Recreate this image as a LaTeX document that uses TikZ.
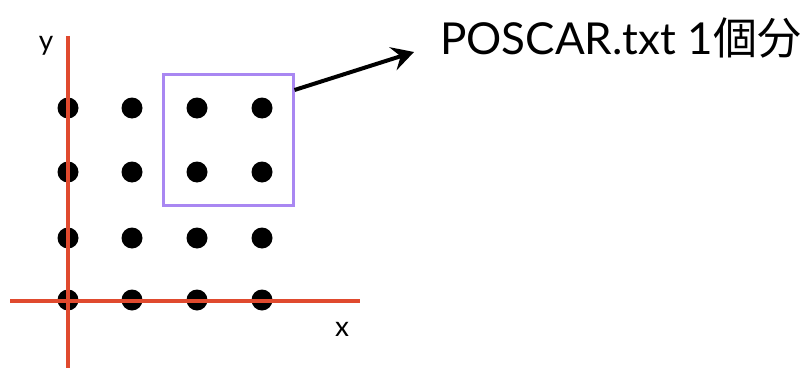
\documentclass[tikz,border=0pt]{standalone}
\usepackage{fontspec}
\setmainfont{Lato}
\newfontfamily\cjk{Noto Sans CJK JP}
\usetikzlibrary{arrows.meta}
\definecolor{axisred}{HTML}{E04A2E}
\definecolor{boxpurple}{HTML}{A987F2}
\tikzset{
  axis/.style={draw=axisred, line width=4.5pt},
  dot/.style={circle, fill=black, inner sep=0pt, minimum size=21pt},
  cellbox/.style={draw=boxpurple, line width=3pt, inner sep=0pt},
  lbl/.style={font=\fontsize{28}{32}\selectfont, inner sep=0pt},
  conn/.style={line width=4pt, -{Stealth[length=22pt,width=24pt,inset=8pt]}}
}
\begin{document}
\begin{tikzpicture}[x=1pt,y=-1pt]
\useasboundingbox (0,0) rectangle (808,369);
\foreach \c/\x in {1/68,2/132,3/197,4/262}{
  \foreach \r/\y in {1/108,2/172,3/238,4/300}{
    \node[dot] (d\c\r) at (\x,\y) {};
  }
}
\draw[axis] (68,36) -- (68,368);
\draw[axis] (10,301) -- (360,301);
\node[lbl] (ylab) at (46,46) {y};
\node[lbl] (xlab) at (342,329) {x};
\node[cellbox, minimum width=130pt, minimum height=131pt] (cell) at (228,139.5) {};
\node[anchor=west, inner sep=0pt, font=\fontsize{44}{50}\selectfont] (title) at (440,38) {POSCAR.txt 1{\cjk 個分}};
\coordinate (tip) at (414,52);
\draw[conn] (cell.east |- 0,90) -- (tip);
\end{tikzpicture}
\end{document}
